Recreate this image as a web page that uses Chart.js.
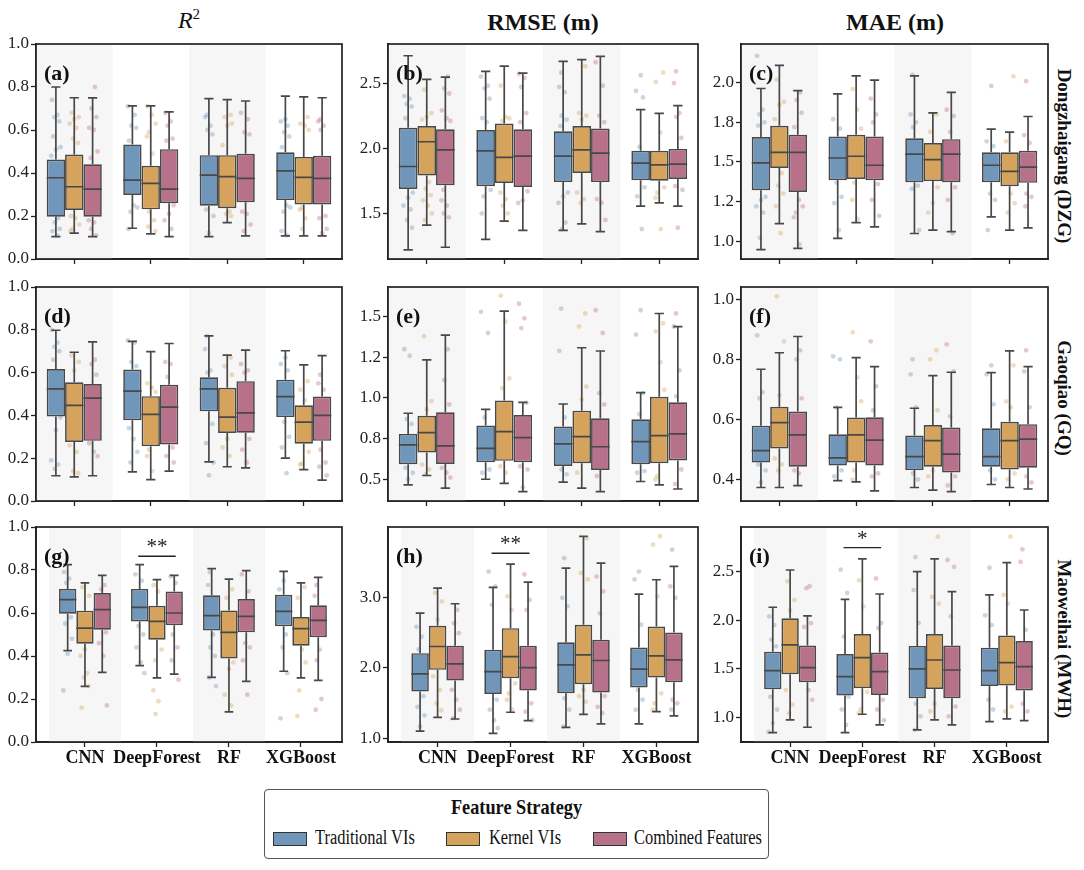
<!DOCTYPE html>
<html>
<head>
<meta charset="utf-8">
<script src="https://cdn.jsdelivr.net/npm/chart.js@4.4.1/dist/chart.umd.min.js"></script>
<style>
  body { margin: 0; background: #fff; }
  #fig { position: relative; width: 1084px; height: 870px; overflow: hidden; font-family: "Liberation Serif", "Times New Roman", serif; color: #111; }
  #fig canvas { position: absolute; }
  .coltitle { position: absolute; top: 9px; font-size: 24px; font-weight: bold; transform: translateX(-50%); white-space: nowrap; }
  .coltitle.r2 { top: 6px; font-weight: normal; font-style: italic; font-size: 24px; }
  .coltitle.r2 sup { font-size: 15px; font-style: normal; }
  .rowlabel { position: absolute; left: 1053px; font-size: 19px; font-weight: bold; writing-mode: vertical-rl; transform: translateY(-50%); white-space: nowrap; }
  #legend { position: absolute; left: 264px; top: 789px; width: 505px; height: 70px; box-sizing: border-box; border: 1px solid #555; border-radius: 4px; }
  #legend .title { position: absolute; top: 5px; left: 0; width: 100%; text-align: center; font-weight: bold; font-size: 21px; transform: scaleX(0.87); }
  #legend .sw { position: absolute; top: 42px; width: 32px; height: 12px; border: 1px solid #333; }
  #legend .lab { position: absolute; top: 36px; font-size: 20px; white-space: nowrap; transform: scaleX(0.82); transform-origin: left center; }
</style>
</head>
<body>
<div id="fig">
  <div class="coltitle r2" style="left:189px">R<sup>2</sup></div>
  <div class="coltitle" style="left:543px">RMSE (m)</div>
  <div class="coltitle" style="left:895px">MAE (m)</div>
  <div id="legend">
    <div class="title">Feature Strategy</div>
  </div>
</div>
<script>
const categories = ["CNN", "DeepForest", "RF", "XGBoost"];
const strategies = ["Traditional VIs", "Kernel VIs", "Combined Features"];
const sites = ["Dongzhaigang (DZG)", "Gaoqiao (GQ)", "Maoweihai (MWH)"];
const panelTags = ["(a)", "(b)", "(c)", "(d)", "(e)", "(f)", "(g)", "(h)", "(i)"];

// y axis range and ticks for each panel
const yMin = [0, 1.15, 0.887, 0, 0.366, 0.328, 0, 0.953, 0.745];
const yMax = [1.0, 2.80, 2.245, 1.0, 1.683, 1.041, 1.0, 3.99, 2.96];
const yTicks = [
  [0, 0.2, 0.4, 0.6, 0.8, 1.0], [1.5, 2.0, 2.5], [1.0, 1.25, 1.5, 1.75, 2.0],
  [0, 0.2, 0.4, 0.6, 0.8, 1.0], [0.5, 0.75, 1.0, 1.25, 1.5], [0.4, 0.6, 0.8, 1.0],
  [0, 0.2, 0.4, 0.6, 0.8, 1.0], [1.0, 2.0, 3.0], [1.0, 1.5, 2.0, 2.5],
];
const yTickLabels = [
  ["0.0", "0.2", "0.4", "0.6", "0.8", "1.0"], ["1.5", "2.0", "2.5"], ["1.0", "1.2", "1.5", "1.8", "2.0"],
  ["0.0", "0.2", "0.4", "0.6", "0.8", "1.0"], ["0.5", "0.8", "1.0", "1.2", "1.5"], ["0.4", "0.6", "0.8", "1.0"],
  ["0.0", "0.2", "0.4", "0.6", "0.8", "1.0"], ["1.0", "2.0", "3.0"], ["1.0", "1.5", "2.0", "2.5"],
];

// boxes: [strategy][model] -> [lower whisker, Q1, median, Q3, upper whisker]
const boxA = [
  [[0.104, 0.197, 0.378, 0.463, 0.80], [0.143, 0.298, 0.367, 0.533, 0.712], [0.104, 0.248, 0.39, 0.483, 0.746], [0.108, 0.274, 0.41, 0.496, 0.758]],
  [[0.12, 0.228, 0.336, 0.486, 0.75], [0.117, 0.231, 0.352, 0.434, 0.712], [0.169, 0.236, 0.383, 0.483, 0.741], [0.108, 0.254, 0.38, 0.475, 0.754]],
  [[0.104, 0.197, 0.325, 0.441, 0.749], [0.104, 0.259, 0.325, 0.511, 0.684], [0.108, 0.264, 0.375, 0.489, 0.735], [0.108, 0.254, 0.375, 0.48, 0.75]],
];
const boxB = [
  [[1.22, 1.688, 1.86, 2.157, 2.71], [1.30, 1.708, 1.98, 2.14, 2.59], [1.37, 1.74, 1.94, 2.13, 2.667], [1.556, 1.754, 1.886, 1.98, 2.297]],
  [[1.41, 1.79, 2.05, 2.17, 2.528], [1.44, 1.733, 1.93, 2.19, 2.63], [1.42, 1.81, 1.987, 2.17, 2.68], [1.58, 1.75, 1.873, 1.98, 2.267]],
  [[1.24, 1.716, 1.987, 2.145, 2.546], [1.37, 1.703, 1.94, 2.145, 2.576], [1.36, 1.74, 1.962, 2.152, 2.705], [1.556, 1.764, 1.878, 1.995, 2.327]],
];
const boxC = [
  [[0.946, 1.322, 1.494, 1.657, 1.964], [1.017, 1.385, 1.525, 1.661, 1.93], [1.048, 1.372, 1.55, 1.65, 2.044], [1.153, 1.372, 1.479, 1.561, 1.707]],
  [[1.11, 1.462, 1.56, 1.728, 2.11], [1.117, 1.393, 1.536, 1.672, 2.044], [1.069, 1.379, 1.515, 1.619, 1.81], [1.069, 1.347, 1.441, 1.561, 1.688]],
  [[0.954, 1.31, 1.56, 1.672, 1.95], [1.09, 1.385, 1.479, 1.661, 2.017], [1.06, 1.372, 1.55, 1.644, 1.94], [1.084, 1.368, 1.467, 1.571, 1.787]],
];
const boxD = [
  [[0.118, 0.395, 0.524, 0.617, 0.798], [0.136, 0.377, 0.513, 0.614, 0.746], [0.183, 0.419, 0.524, 0.578, 0.772], [0.20, 0.392, 0.488, 0.567, 0.702]],
  [[0.113, 0.276, 0.447, 0.555, 0.695], [0.10, 0.256, 0.405, 0.49, 0.698], [0.16, 0.318, 0.392, 0.529, 0.682], [0.147, 0.268, 0.369, 0.447, 0.636]],
  [[0.118, 0.281, 0.481, 0.547, 0.744], [0.14, 0.264, 0.439, 0.543, 0.736], [0.155, 0.319, 0.412, 0.56, 0.705], [0.098, 0.281, 0.40, 0.488, 0.679]],
];
const boxE = [
  [[0.465, 0.592, 0.711, 0.779, 0.906], [0.50, 0.605, 0.69, 0.83, 0.93], [0.482, 0.582, 0.717, 0.824, 0.963], [0.486, 0.592, 0.732, 0.869, 1.033]],
  [[0.523, 0.664, 0.787, 0.891, 1.234], [0.475, 0.613, 0.793, 0.984, 1.535], [0.445, 0.598, 0.762, 0.922, 1.309], [0.465, 0.598, 0.768, 1.008, 1.52]],
  [[0.445, 0.594, 0.705, 0.912, 1.387], [0.424, 0.605, 0.756, 0.895, 0.973], [0.424, 0.557, 0.70, 0.875, 1.289], [0.44, 0.615, 0.779, 0.973, 1.439]],
];
const boxF = [
  [[0.373, 0.456, 0.496, 0.579, 0.767], [0.396, 0.446, 0.472, 0.55, 0.64], [0.373, 0.431, 0.476, 0.546, 0.637], [0.383, 0.442, 0.476, 0.57, 0.756]],
  [[0.373, 0.503, 0.589, 0.642, 0.822], [0.392, 0.456, 0.548, 0.606, 0.806], [0.364, 0.442, 0.529, 0.581, 0.746], [0.373, 0.433, 0.529, 0.592, 0.828]],
  [[0.379, 0.442, 0.548, 0.626, 0.876], [0.362, 0.446, 0.531, 0.607, 0.776], [0.359, 0.423, 0.484, 0.573, 0.757], [0.368, 0.439, 0.534, 0.584, 0.776]],
];
const boxG = [
  [[0.425, 0.597, 0.662, 0.712, 0.825], [0.355, 0.561, 0.626, 0.712, 0.825], [0.301, 0.519, 0.588, 0.682, 0.806], [0.329, 0.538, 0.608, 0.685, 0.794]],
  [[0.259, 0.457, 0.53, 0.611, 0.74], [0.298, 0.476, 0.561, 0.634, 0.755], [0.14, 0.388, 0.51, 0.612, 0.758], [0.298, 0.448, 0.527, 0.581, 0.74]],
  [[0.324, 0.522, 0.616, 0.693, 0.775], [0.316, 0.543, 0.60, 0.70, 0.775], [0.282, 0.51, 0.584, 0.665, 0.797], [0.287, 0.487, 0.566, 0.636, 0.766]],
];
const boxH = [
  [[1.108, 1.665, 1.915, 2.208, 2.774], [1.075, 1.632, 1.948, 2.255, 3.137], [1.16, 1.642, 2.042, 2.363, 3.41], [1.208, 1.722, 1.981, 2.288, 3.042]],
  [[1.302, 1.972, 2.302, 2.594, 3.127], [1.373, 1.854, 2.16, 2.561, 3.467], [1.344, 1.769, 2.184, 2.608, 3.858], [1.382, 1.863, 2.17, 2.585, 3.245]],
  [[1.278, 1.82, 2.057, 2.311, 2.906], [1.255, 1.679, 2.005, 2.311, 3.212], [1.208, 1.651, 2.104, 2.396, 3.481], [1.321, 1.797, 2.113, 2.50, 3.434]],
];
const boxI = [
  [[0.842, 1.288, 1.481, 1.676, 2.133], [0.842, 1.223, 1.419, 1.652, 2.215], [0.87, 1.196, 1.498, 1.735, 2.50], [0.955, 1.323, 1.481, 1.717, 2.26]],
  [[0.973, 1.443, 1.745, 2.02, 2.517], [1.031, 1.299, 1.614, 1.858, 2.631], [0.973, 1.292, 1.59, 1.858, 2.631], [0.983, 1.326, 1.563, 1.841, 2.593]],
  [[0.897, 1.36, 1.512, 1.738, 2.044], [0.921, 1.23, 1.47, 1.666, 2.27], [0.921, 1.196, 1.487, 1.738, 2.294], [0.966, 1.275, 1.522, 1.786, 2.105]],
];

// visible sample points: [strategy][model] -> values
const ptsA = [
  [[0.74, 0.67, 0.66, 0.64, 0.57, 0.52, 0.51, 0.48, 0.19, 0.17, 0.14, 0.13, 0.11], [0.71, 0.67, 0.62, 0.61, 0.55, 0.25, 0.24, 0.22, 0.14], [0.67, 0.66, 0.62, 0.6, 0.58, 0.23, 0.2, 0.12], [0.65, 0.64, 0.62, 0.59, 0.57, 0.52, 0.25, 0.24, 0.22, 0.13, 0.11]],
  [[0.68, 0.66, 0.65, 0.63, 0.61, 0.56, 0.54, 0.2, 0.19, 0.16, 0.14, 0.13], [0.71, 0.67, 0.63, 0.59, 0.57, 0.49, 0.22, 0.18, 0.15, 0.13], [0.67, 0.66, 0.63, 0.62, 0.53, 0.22, 0.21, 0.2], [0.66, 0.63, 0.62, 0.6, 0.24, 0.23, 0.19, 0.14]],
  [[0.80, 0.70, 0.66, 0.61, 0.60, 0.50, 0.47, 0.18, 0.17, 0.14, 0.11], [0.68, 0.64, 0.62, 0.56, 0.55, 0.25, 0.21, 0.18, 0.14], [0.68, 0.65, 0.59, 0.58, 0.22, 0.21, 0.16, 0.13], [0.65, 0.64, 0.62, 0.6, 0.2, 0.19, 0.14, 0.12]],
];
const ptsB = [
  [[2.40, 2.38, 2.34, 2.32, 2.23, 1.66, 1.62, 1.56, 1.53, 1.45, 1.39], [2.55, 2.48, 2.46, 2.38, 2.23, 2.2, 1.68, 1.63, 1.5], [2.58, 2.47, 2.43, 2.25, 2.22, 2.17, 1.66, 1.63, 1.58, 1.43, 1.38], [2.56, 2.44, 2.39, 2.01, 1.7, 1.63, 1.38]],
  [[2.45, 2.27, 2.24, 2.22, 1.74, 1.69, 1.64, 1.6, 1.56, 1.5, 1.45], [2.48, 2.24, 2.23, 2.21, 1.66, 1.61, 1.56, 1.5], [2.63, 2.27, 2.25, 2.22, 1.66, 1.61, 1.58], [2.58, 2.51, 2.12, 1.7, 1.66, 1.62, 1.38]],
  [[2.55, 2.46, 2.42, 2.29, 2.23, 2.21, 1.68, 1.6, 1.56, 1.5, 1.47], [2.57, 2.54, 2.47, 2.27, 2.2, 1.67, 1.6, 1.58], [2.66, 2.48, 2.25, 2.2, 1.61, 1.58, 1.45], [2.59, 2.5, 2.27, 2.24, 2.08, 1.71, 1.68, 1.39]],
];
const ptsC = [
  [[2.17, 1.83, 1.8, 1.75, 1.73, 1.28, 1.26, 1.22, 1.18, 1.02], [1.77, 1.71, 1.37, 1.28, 1.24, 1.07], [2.05, 1.8, 1.75, 1.72, 1.35, 1.33, 1.07], [1.98, 1.63, 1.6, 1.3, 1.26, 1.07]],
  [[2.02, 1.88, 1.86, 1.77, 1.43, 1.35, 1.3, 1.22, 1.05], [1.96, 1.83, 1.71, 1.37, 1.26, 1.14], [1.8, 1.69, 1.34, 1.24, 1.18], [2.04, 1.63, 1.3, 1.24, 1.18]],
  [[1.94, 1.89, 1.81, 1.72, 1.26, 1.22, 1.18, 1.15, 0.98], [1.9, 1.8, 1.75, 1.36, 1.26, 1.16], [1.83, 1.79, 1.69, 1.34, 1.26, 1.05], [2.01, 1.67, 1.62, 1.3, 1.28, 1.22]],
];
const ptsD = [
  [[0.8, 0.74, 0.72, 0.7, 0.66, 0.39, 0.33, 0.19, 0.17, 0.15], [0.75, 0.74, 0.65, 0.63, 0.34, 0.29, 0.23, 0.18], [0.77, 0.71, 0.61, 0.6, 0.36, 0.27, 0.18, 0.12], [0.67, 0.64, 0.61, 0.37, 0.3, 0.25, 0.13]],
  [[0.68, 0.65, 0.61, 0.26, 0.23, 0.14, 0.13], [0.55, 0.53, 0.51, 0.24, 0.21, 0.14], [0.67, 0.63, 0.59, 0.29, 0.25, 0.21], [0.56, 0.52, 0.47, 0.23, 0.175, 0.17]],
  [[0.66, 0.64, 0.59, 0.27, 0.23, 0.21], [0.65, 0.64, 0.58, 0.25, 0.21, 0.18], [0.64, 0.61, 0.6, 0.29, 0.24, 0.18], [0.59, 0.55, 0.52, 0.24, 0.18, 0.16, 0.12]],
];
const ptsE = [
  [[1.3, 1.26, 0.87, 0.84, 0.57, 0.54, 0.5], [1.53, 1.4, 0.88, 0.56, 0.54], [1.55, 1.29, 0.88, 0.56, 0.53], [1.54, 1.39, 1.03, 0.9, 0.55, 0.54]],
  [[1.38, 0.98, 0.93, 0.59, 0.56, 0.53], [1.63, 1.47, 1.12, 1.06, 0.58, 0.54], [1.52, 1.44, 1.07, 0.99, 0.54], [1.46, 1.41, 1.22, 1.05, 0.52, 0.5]],
  [[1.3, 1.11, 0.96, 0.57, 0.54, 0.51], [1.58, 1.49, 1.43, 0.97, 0.58, 0.56, 0.45], [1.54, 1.4, 1.03, 0.96, 0.52], [1.52, 1.44, 1.17, 1.01, 0.56, 0.47]],
];
const ptsF = [
  [[0.88, 0.69, 0.67, 0.47, 0.45, 0.43, 0.39], [0.81, 0.8, 0.64, 0.43, 0.41], [0.8, 0.75, 0.64, 0.42, 0.4], [0.78, 0.75, 0.65, 0.43, 0.4]],
  [[1.01, 0.86, 0.68, 0.47, 0.45, 0.43], [0.89, 0.74, 0.66, 0.43, 0.4], [0.83, 0.8, 0.63, 0.43, 0.41], [0.78, 0.66, 0.64, 0.42, 0.4]],
  [[0.83, 0.8, 0.67, 0.43, 0.42], [0.86, 0.71, 0.63, 0.42, 0.41], [0.85, 0.76, 0.61, 0.41, 0.38], [0.83, 0.76, 0.64, 0.41, 0.39]],
];
const ptsG = [
  [[0.79, 0.76, 0.74, 0.58, 0.55, 0.48, 0.41, 0.24], [0.78, 0.75, 0.54, 0.5, 0.44, 0.37, 0.32], [0.79, 0.73, 0.5, 0.44, 0.4, 0.3, 0.26], [0.75, 0.71, 0.5, 0.44, 0.32, 0.11]],
  [[0.72, 0.68, 0.43, 0.4, 0.32, 0.3, 0.26, 0.16], [0.73, 0.7, 0.43, 0.38, 0.24, 0.19, 0.13], [0.71, 0.67, 0.37, 0.34, 0.22, 0.17], [0.72, 0.67, 0.43, 0.37, 0.24, 0.12]],
  [[0.73, 0.71, 0.51, 0.46, 0.4, 0.17], [0.77, 0.74, 0.5, 0.44, 0.38, 0.29], [0.78, 0.7, 0.46, 0.44, 0.38, 0.22], [0.73, 0.68, 0.43, 0.38, 0.2, 0.15]],
];
const ptsH = [
  [[2.58, 2.44, 2.26, 1.6, 1.45, 1.33, 1.17], [3.36, 3.15, 2.89, 1.55, 1.41, 1.26, 1.15], [3.55, 2.99, 2.87, 1.57, 1.41, 1.17], [3.36, 3.25, 2.61, 1.69, 1.55, 1.41]],
  [[3.06, 2.94, 2.68, 1.88, 1.69, 1.5, 1.4], [3.01, 2.82, 1.78, 1.64, 1.55, 1.41], [3.83, 3.34, 3.25, 1.69, 1.6, 1.52], [3.86, 3.74, 3.01, 1.64, 1.5, 1.41]],
  [[2.82, 2.63, 2.49, 1.69, 1.55, 1.41, 1.29], [3.32, 2.96, 2.82, 1.5, 1.38, 1.26], [3.29, 3.08, 2.77, 1.6, 1.45, 1.36], [3.67, 3.15, 2.99, 1.55, 1.5, 1.41]],
];
const ptsI = [
  [[2.04, 1.95, 1.8, 1.73, 1.21, 1.08, 0.94, 0.85], [2.52, 2.28, 1.83, 1.21, 1.08, 0.92], [2.65, 2.31, 1.97, 1.14, 1.01, 0.87], [2.54, 2.05, 1.95, 1.18, 1.08]],
  [[2.4, 2.21, 2.1, 1.28, 1.13, 1.04], [2.41, 2.14, 1.26, 1.08, 1.04], [2.86, 2.24, 2.17, 1.14, 1.06], [2.86, 2.26, 2.17, 1.11, 1.06]],
  [[2.35, 2.33, 1.97, 1.93, 1.28, 1.18], [2.43, 1.97, 1.92, 1.18, 1.08, 0.97], [2.62, 2.55, 2.04, 1.11, 1.01], [2.73, 2.6, 1.9, 1.14, 1.06]],
];

// significance marks (bottom row, DeepForest group)
const sigPanels = [6, 7, 8];
const sigModel = [1, 1, 1];
const sigText = ["**", "**", "*"];
const sigY = [0.864, 3.62, 2.747];

const boxes = [boxA, boxB, boxC, boxD, boxE, boxF, boxG, boxH, boxI];
const points = [ptsA, ptsB, ptsC, ptsD, ptsE, ptsF, ptsG, ptsH, ptsI];

const fills = ["#7097b9", "#d5a35b", "#b8718a"];
const dots = ["rgba(112,151,185,0.38)", "rgba(213,163,91,0.38)", "rgba(184,113,138,0.38)"];
const edge = "#484848";
const bandColor = "#f6f6f6";
const serif = '"Liberation Serif", "Times New Roman", serif';
const groupOffset = [-0.24, 0, 0.24];
const jitter = [-0.05, 0.02, -0.02, 0.045, -0.035, 0.06, 0.0, -0.06, 0.03, -0.015, 0.05, -0.045, 0.015, 0.065, -0.025];

// plot-area frames (px) on the page
const colLeft = [36, 388, 741], colRight = [342, 698, 1048];
const rowTop = [44, 287, 527], rowBottom = [259, 501, 742];

const fig = document.getElementById("fig");

sites.forEach((s, r) => {
  const d = document.createElement("div");
  d.className = "rowlabel";
  d.style.top = ((rowTop[r] + rowBottom[r]) / 2 + 4) + "px";
  d.textContent = s;
  fig.appendChild(d);
});

const legend = document.getElementById("legend");
const swLeft = [8, 181, 328], labLeft = [50, 224, 369];
strategies.forEach((s, i) => {
  const sw = document.createElement("div");
  sw.className = "sw";
  sw.style.left = swLeft[i] + "px";
  sw.style.background = fills[i];
  legend.appendChild(sw);
  const lb = document.createElement("div");
  lb.className = "lab";
  lb.style.left = labLeft[i] + "px";
  lb.textContent = s;
  legend.appendChild(lb);
});

const boxPlugin = {
  id: "boxExtras",
  beforeDatasetsDraw(chart) {
    const { ctx, chartArea, scales: { x } } = chart;
    ctx.save();
    ctx.fillStyle = bandColor;
    [0, 2].forEach(ci => {
      const l = Math.max(x.getPixelForValue(ci - 0.5), chartArea.left);
      const rr = x.getPixelForValue(ci + 0.5);
      ctx.fillRect(l, chartArea.top, rr - l, chartArea.bottom - chartArea.top);
    });
    ctx.restore();
  },
  afterDatasetsDraw(chart) {
    const { ctx, chartArea, scales: { x, y } } = chart;
    const p = chart.options.plugins.boxExtras;
    ctx.save();
    ctx.strokeStyle = edge;
    ctx.lineWidth = 1.7;
    chart.data.datasets.forEach((ds, di) => {
      if (!ds.stats) return;
      chart.getDatasetMeta(di).data.forEach((bar, i) => {
        const [lo, q1, med, q3, hi] = ds.stats[i];
        const cx = bar.x, half = bar.width / 2;
        ctx.beginPath();
        ctx.moveTo(cx, y.getPixelForValue(q3)); ctx.lineTo(cx, y.getPixelForValue(hi));
        ctx.moveTo(cx, y.getPixelForValue(q1)); ctx.lineTo(cx, y.getPixelForValue(lo));
        ctx.moveTo(cx - half / 2, y.getPixelForValue(hi)); ctx.lineTo(cx + half / 2, y.getPixelForValue(hi));
        ctx.moveTo(cx - half / 2, y.getPixelForValue(lo)); ctx.lineTo(cx + half / 2, y.getPixelForValue(lo));
        ctx.moveTo(cx - half, y.getPixelForValue(med)); ctx.lineTo(cx + half, y.getPixelForValue(med));
        ctx.stroke();
      });
    });
    // significance bar
    if (p.sig) {
      const py = y.getPixelForValue(p.sig.y);
      ctx.strokeStyle = "#222";
      ctx.lineWidth = 1.4;
      ctx.beginPath();
      ctx.moveTo(x.getPixelForValue(p.sig.model - 0.26), py);
      ctx.lineTo(x.getPixelForValue(p.sig.model + 0.26), py);
      ctx.stroke();
      ctx.fillStyle = "#222";
      ctx.font = "21px " + serif;
      ctx.textAlign = "center";
      ctx.textBaseline = "alphabetic";
      ctx.fillText(p.sig.text, x.getPixelForValue(p.sig.model), py - 3);
    }
    // panel tag
    ctx.fillStyle = "#111";
    ctx.font = "bold 22px " + serif;
    ctx.textAlign = "left";
    ctx.textBaseline = "middle";
    ctx.fillText(p.tag, chartArea.left + 8, chartArea.top + 30);
    // frame
    ctx.strokeStyle = "#222";
    ctx.lineWidth = 1.7;
    ctx.strokeRect(chartArea.left, chartArea.top, chartArea.right - chartArea.left, chartArea.bottom - chartArea.top);
    ctx.restore();
  }
};

for (let idx = 0; idx < 9; idx++) {
  const r = Math.floor(idx / 3), c = idx % 3;
  const xh = r === 2 ? 34 : 10;
  const w = colRight[c] - colLeft[c] + 46;
  const h = rowBottom[r] - rowTop[r] + 10 + xh;
  const cv = document.createElement("canvas");
  cv.width = w; cv.height = h;
  cv.style.left = (colLeft[c] - 40) + "px";
  cv.style.top = (rowTop[r] - 10) + "px";
  cv.style.width = w + "px"; cv.style.height = h + "px";
  fig.appendChild(cv);

  const datasets = [];
  strategies.forEach((s, si) => {
    datasets.push({
      type: "bar",
      label: s,
      order: 1,
      data: boxes[idx][si].map((b, ci) => ({ x: ci, y: [b[1], b[3]] })),
      stats: boxes[idx][si],
      backgroundColor: fills[si],
      borderColor: edge,
      borderWidth: 1.7,
      borderSkipped: false,
      categoryPercentage: 0.72,
      barPercentage: 1.0,
    });
  });
  strategies.forEach((s, si) => {
    const data = [];
    points[idx][si].forEach((vals, ci) => {
      vals.forEach((v, k) => {
        data.push({ x: ci + groupOffset[si] + jitter[(k + si * 4 + ci * 7) % jitter.length], y: v });
      });
    });
    datasets.push({
      type: "scatter",
      label: s + " samples",
      order: 2,
      data,
      backgroundColor: dots[si],
      borderWidth: 0,
      pointRadius: 2.4,
    });
  });

  const si = sigPanels.indexOf(idx);
  new Chart(cv, {
    data: { datasets },
    plugins: [boxPlugin],
    options: {
      responsive: false,
      animation: false,
      devicePixelRatio: 1,
      layout: { padding: { top: 10, right: 6, left: 0, bottom: 0 } },
      plugins: {
        legend: { display: false },
        tooltip: { enabled: false },
        boxExtras: {
          tag: panelTags[idx],
          sig: si >= 0 ? { model: sigModel[si], text: sigText[si], y: sigY[si] } : null,
        },
      },
      scales: {
        x: {
          type: "linear",
          min: r === 2 ? -0.68 : -0.5,
          max: r === 2 ? 3.57 : 3.5,
          offset: false,
          afterBuildTicks: s => { s.ticks = categories.map((_, i) => ({ value: i })); },
          afterFit: s => { s.height = xh; s.paddingLeft = 0; s.paddingRight = 0; },
          ticks: {
            autoSkip: false,
            maxRotation: 0,
            padding: 1,
            color: "#111",
            font: { family: serif, size: 18, weight: "bold" },
            callback: (v, i) => (r === 2 ? categories[i] : ""),
          },
          grid: { offset: false, drawOnChartArea: false, drawTicks: true, tickLength: 5, tickWidth: 1.3, tickColor: "#222" },
          border: { display: true, color: "#222", width: 1.7 },
        },
        y: {
          type: "linear",
          min: yMin[idx],
          max: yMax[idx],
          beginAtZero: false,
          afterBuildTicks: s => { s.ticks = yTicks[idx].map(v => ({ value: v })); },
          afterFit: s => { s.width = 40; s.paddingTop = 0; s.paddingBottom = 0; },
          ticks: {
            padding: 2,
            color: "#222",
            font: { family: serif, size: 17 },
            callback: (v, i) => yTickLabels[idx][i],
          },
          grid: { drawOnChartArea: false, drawTicks: true, tickLength: 5, tickWidth: 1.3, tickColor: "#222" },
          border: { display: true, color: "#222", width: 1.7 },
        },
      },
    },
  });
}
</script>
</body>
</html>
